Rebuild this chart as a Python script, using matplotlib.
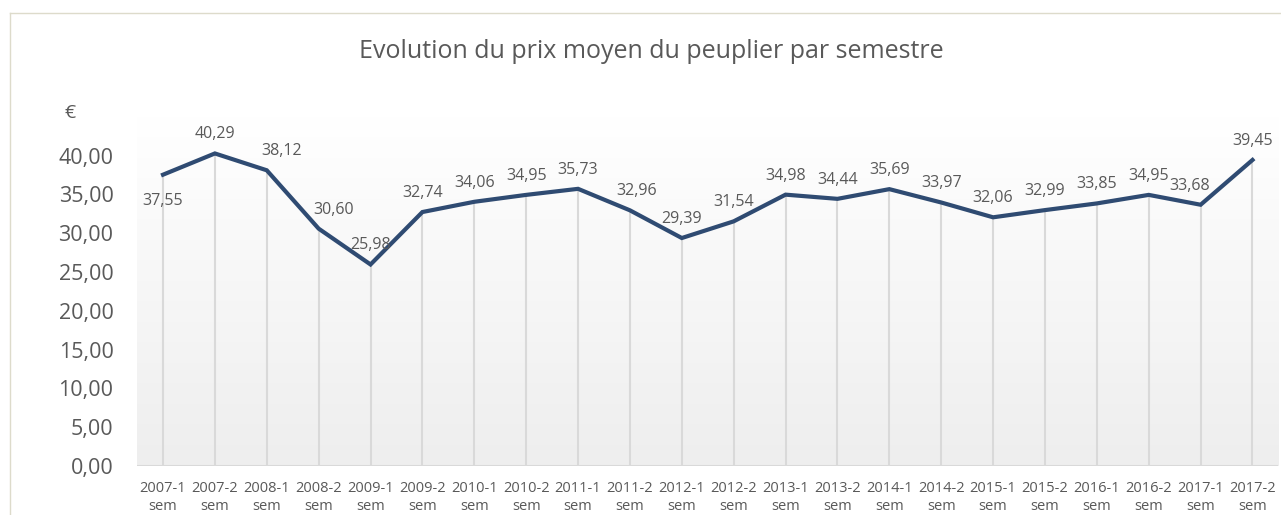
import numpy as np
import matplotlib
matplotlib.use("Agg")
import matplotlib.pyplot as plt
from matplotlib.colors import LinearSegmentedColormap
from matplotlib.lines import Line2D

# Semesters and average poplar price (EUR)
semesters = [
    "2007-1", "2007-2", "2008-1", "2008-2", "2009-1", "2009-2",
    "2010-1", "2010-2", "2011-1", "2011-2", "2012-1", "2012-2",
    "2013-1", "2013-2", "2014-1", "2014-2", "2015-1", "2015-2",
    "2016-1", "2016-2", "2017-1", "2017-2",
]
prices = [
    37.55, 40.29, 38.12, 30.60, 25.98, 32.74, 34.06, 34.95, 35.73, 32.96,
    29.39, 31.54, 34.98, 34.44, 35.69, 33.97, 32.06, 32.99, 33.85, 34.95,
    33.68, 39.45,
]
y_ticks = [0, 5, 10, 15, 20, 25, 30, 35, 40]

TEXT = "#595959"
LINE = "#2F4B72"
plt.rcParams["font.family"] = ["Open Sans", "DejaVu Sans"]

fig = plt.figure(figsize=(12.81, 5.15), dpi=100)
ax = fig.add_axes([0.107, 0.095, 0.891, 0.678])

x = np.arange(len(prices))

# background gradient, white at top to light grey at bottom
grad = np.linspace(1.0, 0.0, 256).reshape(-1, 1)
bg_cmap = LinearSegmentedColormap.from_list("bg", ["#EEEEEE", "#FFFFFF"])
ax.imshow(grad, cmap=bg_cmap, aspect="auto",
          extent=[0, 1, 0, 1], transform=ax.transAxes, zorder=0)

# drop lines from each point down to zero
ax.vlines(x, 0, prices, color="#D9D9D9", linewidth=1.5, zorder=1)
ax.axhline(0, color="#D9D9D9", linewidth=1.5, zorder=1)

ax.plot(x, prices, color=LINE, linewidth=3, solid_joinstyle="miter", zorder=3)

# data labels, mostly above the point
offsets = {0: (0, -25), 2: (11, 8), 3: (11, 8), 9: (5, 8), 20: (-8, 8)}
for i, v in enumerate(prices):
    dx, dy = offsets.get(i, (0, 8))
    ax.annotate(f"{v:.2f}".replace(".", ","), (x[i], v),
                xytext=(dx, dy), textcoords="offset points",
                ha="center", va="bottom", fontsize=11.5, color=TEXT, zorder=4)

ax.set_xlim(-0.5, len(prices) - 0.5)
ax.set_ylim(0, 45)
ax.set_yticks(y_ticks)
ax.set_yticklabels([f"{t:.2f}".replace(".", ",") for t in y_ticks])
ax.set_xticks(x)
ax.set_xticklabels([f"{s}\nsem" for s in semesters], linespacing=1.2)
ax.tick_params(axis="y", length=0, pad=17, labelsize=15.5, labelcolor=TEXT)
ax.tick_params(axis="x", length=0, pad=11, labelsize=10.5, labelcolor=TEXT)
for sp in ax.spines.values():
    sp.set_visible(False)

fig.text(651 / 1281, 1 - 51 / 515, "Evolution du prix moyen du peuplier par semestre",
         ha="center", va="center", fontsize=18, color=TEXT)
fig.text(70 / 1281, 1 - 113 / 515, "€", ha="center", va="center",
         fontsize=14, color=TEXT)

# chart border on top and left
bc = "#DDDBCB"
fig.add_artist(Line2D([9.5 / 1281, 9.5 / 1281], [0, 1 - 13 / 515],
                      transform=fig.transFigure, color=bc, linewidth=1))
fig.add_artist(Line2D([9.5 / 1281, 1], [1 - 13 / 515, 1 - 13 / 515],
                      transform=fig.transFigure, color=bc, linewidth=1))

fig.savefig("out.png", dpi=100)
